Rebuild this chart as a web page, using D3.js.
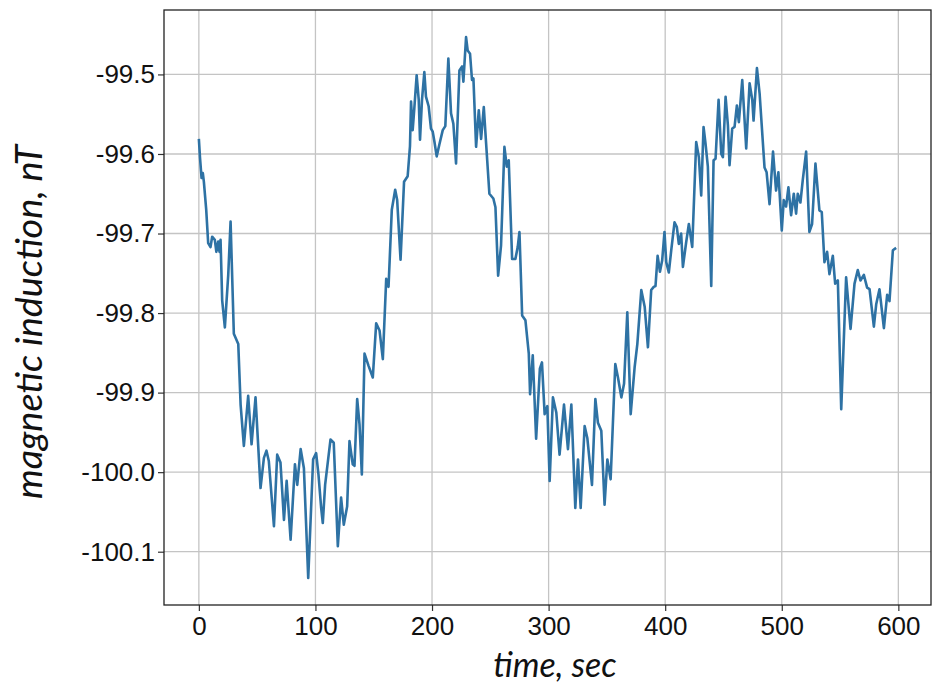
<!DOCTYPE html>
<html>
<head>
<meta charset="utf-8">
<script src="https://cdn.jsdelivr.net/npm/d3@7"></script>
<style>
  html, body { margin: 0; padding: 0; background: #ffffff; }
  svg { display: block; }
</style>
</head>
<body>
<svg id="chart" width="933" height="686"></svg>
<script>
// Magnetometer record: time (s) and magnetic induction (nT)
const timeSec = [
  0, 1, 2.3, 3.4, 4.3, 6.3, 8, 10, 11.4, 13.7, 15, 16.6, 17.7, 18.6, 20, 22.3, 25.2, 27.2, 30, 33.8,
  35.8, 38.6, 42.3, 45.2, 48.6, 52.9, 55.8, 58, 60, 64.4, 67.2, 70, 73, 75.3, 78.7, 82.4, 84.4, 87.3, 90.1, 93.8,
  98, 100.6, 102.6, 104.9, 106.3, 108.3, 112.9, 115.7, 119.2, 122, 124.3, 127.2, 129.2, 132, 133.5, 135.8, 137.8, 139.8, 142.1, 145.5,
  149.2, 152.1, 155, 157.8, 160.7, 162.7, 165.5, 168.4, 170.1, 173, 176, 179.1, 181.1, 182, 183.4, 184.8, 186.8, 188.6, 189.7, 191.4,
  193.4, 194.8, 197.1, 199.1, 200.6, 202, 204, 206.3, 209.2, 211.4, 214, 216.3, 218.3, 220.6, 223.5, 225.8, 226.9, 229.2, 230.6, 232.6,
  234.3, 235.5, 237.8, 240.1, 242.1, 244.4, 246.4, 249.2, 252.6, 254.4, 256.7, 259.2, 262.1, 264.1, 265.8, 268.7, 271.5, 273.5, 275, 277.3,
  280.1, 283, 284.1, 286.4, 289.3, 292.5, 294.3, 296.6, 298.9, 300.9, 303.7, 306.6, 309.4, 313.2, 316.6, 319.5, 322.9, 325.2, 327.5, 330.9,
  333.2, 337.2, 340.1, 342.3, 345.2, 348, 350.4, 353.2, 357.2, 359.5, 362.4, 364.7, 367.5, 370.4, 373.8, 376.1, 379.5, 382.4, 385.2, 388,
  390.2, 391.7, 393.5, 395.5, 397.4, 399.4, 400.9, 403.1, 405.2, 408, 410, 411.7, 413.7, 415.2, 418, 420.3, 423.2, 426.6, 428.9, 430.9,
  432.9, 434.6, 436.6, 439.5, 441.5, 443.2, 445.8, 448.1, 449.5, 451.8, 453.8, 455.2, 457.5, 459.5, 461.5, 463.2, 466.1, 469.5, 472.4, 474.7,
  475.8, 478.7, 481, 485.2, 487, 489.5, 492.5, 495.1, 497.1, 500, 501.7, 503.7, 505.7, 508, 510.3, 512.3, 513.7, 516, 518, 520.9,
  523.7, 526, 528.9, 532.3, 534.3, 536.6, 538.9, 540.9, 543.8, 545.8, 548.1, 551, 555.2, 559, 562.4, 565.2, 567.5, 570.4, 573.2, 575.3,
  579, 581, 583.8, 587.6, 590.4, 592.4, 595.3, 598.1
];
const inductionNT = [
  -99.581, -99.605, -99.63, -99.624, -99.635, -99.67, -99.712, -99.717, -99.704, -99.708, -99.723, -99.71, -99.723, -99.708, -99.784, -99.818, -99.752, -99.685, -99.826, -99.839,
  -99.915, -99.967, -99.904, -99.965, -99.906, -100.02, -99.982, -99.973, -99.986, -100.068, -99.978, -99.988, -100.06, -100.011, -100.085, -99.99, -100.016, -99.971, -99.995, -100.133,
  -99.984, -99.976, -100.003, -100.045, -100.064, -100.016, -99.959, -99.963, -100.093, -100.032, -100.066, -100.043, -99.961, -99.99, -99.992, -99.908, -99.94, -100.003, -99.851, -99.866,
  -99.881, -99.813, -99.822, -99.858, -99.757, -99.767, -99.67, -99.645, -99.658, -99.733, -99.635, -99.628, -99.59, -99.534, -99.57, -99.543, -99.501, -99.532, -99.582, -99.532,
  -99.497, -99.528, -99.54, -99.568, -99.572, -99.584, -99.603, -99.588, -99.57, -99.565, -99.48, -99.549, -99.562, -99.612, -99.495, -99.49, -99.509, -99.453, -99.47, -99.474,
  -99.507, -99.505, -99.591, -99.545, -99.581, -99.541, -99.587, -99.65, -99.656, -99.667, -99.753, -99.715, -99.591, -99.616, -99.608, -99.732, -99.732, -99.717, -99.698, -99.803,
  -99.809, -99.851, -99.902, -99.853, -99.958, -99.87, -99.862, -99.927, -99.917, -100.011, -99.906, -99.925, -99.978, -99.915, -99.971, -99.915, -100.045, -99.984, -100.045, -99.942,
  -99.957, -100.016, -99.908, -99.938, -99.948, -100.041, -99.984, -100.009, -99.864, -99.881, -99.906, -99.889, -99.799, -99.927, -99.868, -99.839, -99.771, -99.792, -99.843, -99.771,
  -99.767, -99.766, -99.728, -99.748, -99.734, -99.698, -99.736, -99.749, -99.721, -99.686, -99.692, -99.713, -99.7, -99.742, -99.711, -99.688, -99.717, -99.585, -99.604, -99.652,
  -99.566, -99.587, -99.616, -99.766, -99.608, -99.606, -99.532, -99.6, -99.604, -99.528, -99.564, -99.614, -99.568, -99.566, -99.539, -99.56, -99.507, -99.593, -99.511, -99.532,
  -99.558, -99.492, -99.524, -99.617, -99.623, -99.663, -99.597, -99.646, -99.623, -99.696, -99.658, -99.666, -99.642, -99.677, -99.65, -99.675, -99.65, -99.661, -99.633, -99.597,
  -99.698, -99.688, -99.612, -99.671, -99.673, -99.736, -99.723, -99.751, -99.728, -99.763, -99.759, -99.921, -99.755, -99.82, -99.763, -99.746, -99.759, -99.752, -99.768, -99.77,
  -99.817, -99.789, -99.77, -99.819, -99.777, -99.785, -99.721, -99.718
];
const xTicks = [0, 100, 200, 300, 400, 500, 600];
const yTicks = [-99.5, -99.6, -99.7, -99.8, -99.9, -100.0, -100.1];
const xTitle = "time, sec";
const yTitle = "magnetic induction, nT";

const svg = d3.select("#chart");
const plot = { left: 164, right: 931, top: 10, bottom: 605 };

// 5% padding around the data, as in the usual plotting defaults
const xExt = d3.extent(timeSec), yExt = d3.extent(inductionNT);
const xPad = (xExt[1] - xExt[0]) * 0.05, yPad = (yExt[1] - yExt[0]) * 0.05;
const x = d3.scaleLinear().domain([xExt[0] - xPad, xExt[1] + xPad]).range([plot.left, plot.right]);
const y = d3.scaleLinear().domain([yExt[0] - yPad, yExt[1] + yPad]).range([plot.bottom, plot.top]);

const tickFont = "'Liberation Sans', Arial, sans-serif";
const titleFont = "Lato, 'Open Sans', sans-serif";
// plain hyphen for negative numbers
const fmtY = d => d3.format(".1f")(d).replace("\u2212", "-");

// grid
const grid = svg.append("g").attr("stroke", "#c4c4c4").attr("stroke-width", 1.3);
grid.selectAll("line.vx").data(xTicks).join("line")
  .attr("x1", d => x(d)).attr("x2", d => x(d))
  .attr("y1", plot.top).attr("y2", plot.bottom);
grid.selectAll("line.hy").data(yTicks).join("line")
  .attr("x1", plot.left).attr("x2", plot.right)
  .attr("y1", d => y(d)).attr("y2", d => y(d));

// data line
const line = d3.line().x((d, i) => x(timeSec[i])).y(d => y(d));
svg.append("path")
  .datum(inductionNT)
  .attr("d", line)
  .attr("fill", "none")
  .attr("stroke", "#2e72a4")
  .attr("stroke-width", 2.6)
  .attr("stroke-linejoin", "round");

// axes
const xAxis = d3.axisBottom(x).tickValues(xTicks).tickFormat(d3.format("d")).tickSize(6).tickPadding(6);
const yAxis = d3.axisLeft(y).tickValues(yTicks).tickFormat(fmtY).tickSize(6).tickPadding(3);

const gx = svg.append("g").attr("transform", `translate(0,${plot.bottom})`).call(xAxis);
const gy = svg.append("g").attr("transform", `translate(${plot.left},0)`).call(yAxis);
[gx, gy].forEach(g => {
  g.select(".domain").remove();
  g.selectAll(".tick line").attr("stroke", "#333").attr("stroke-width", 1.2);
  g.selectAll(".tick text").attr("fill", "#111").style("font-family", tickFont).style("font-size", "26px");
});

// frame
svg.append("rect")
  .attr("x", plot.left).attr("y", plot.top)
  .attr("width", plot.right - plot.left).attr("height", plot.bottom - plot.top)
  .attr("fill", "none").attr("stroke", "#222").attr("stroke-width", 1.3);

// titles
svg.append("text")
  .attr("x", 555).attr("y", 677)
  .attr("text-anchor", "middle")
  .style("font-family", titleFont).style("font-style", "italic").style("font-size", "34px")
  .attr("fill", "#111")
  .text(xTitle);

svg.append("text")
  .attr("transform", "translate(42,322) rotate(-90) scale(1.05,1)")
  .attr("text-anchor", "middle")
  .style("font-family", titleFont).style("font-style", "italic").style("font-size", "36px")
  .attr("fill", "#111")
  .text(yTitle);
</script>
</body>
</html>
